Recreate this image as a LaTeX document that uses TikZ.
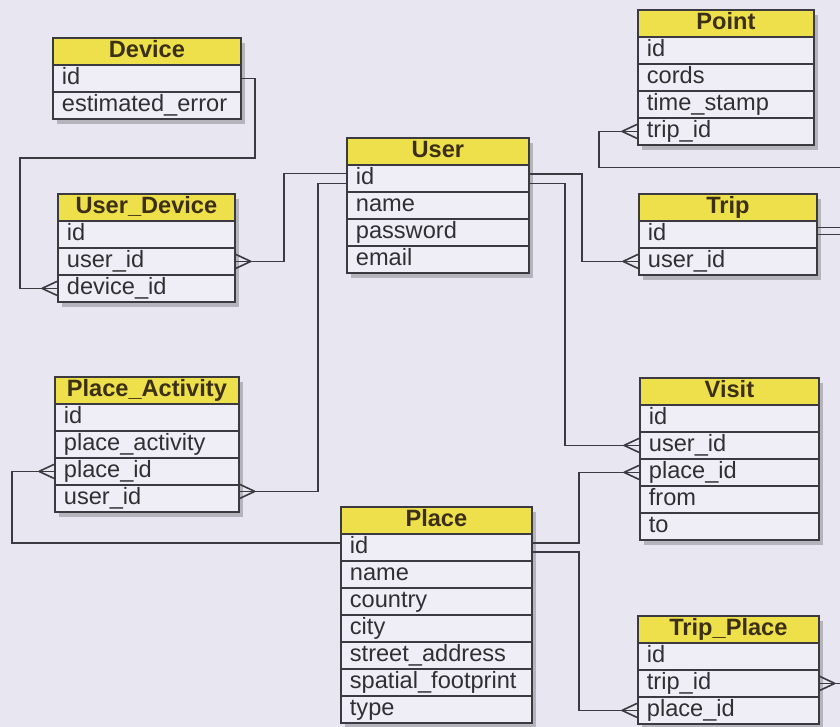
\documentclass[tikz,border=0pt]{standalone}
\usepackage{fontspec}
\setmainfont{Liberation Sans}
\usepackage{tikz}
\usetikzlibrary{calc}
\definecolor{bgcol}   {RGB}{232,230,241}
\definecolor{rowcol}  {RGB}{239,237,245}
\definecolor{headcol} {RGB}{238,224,74}
\definecolor{linecol} {RGB}{58,58,64}
\definecolor{txtcol}  {RGB}{48,48,52}
\definecolor{headtxt} {RGB}{59,48,22}
% one ER table: name, left x, top y, width (px), title, fields
\newcommand\ertable[6]{%
  \foreach \fld [count=\i] in {#6} {\xdef\ertn{\i}}
  \pgfmathsetmacro\ertfull{#4*0.5}
  \pgfmathsetmacro\ertw{#4*0.5-9}
  \fill[tshade] (#2+5,#3+6) rectangle ++(#4,{(\ertn+1)*27});
  \node[thead,minimum width=\ertfull pt,anchor=north west] (#1) at (#2,#3) {#5};
  \foreach \fld [count=\i] in {#6}
    \node[trow,text width=\ertw pt,anchor=north west] (#1-r\i) at (#2,{#3+\i*27}) {\fld};
}

\begin{document}
\begin{tikzpicture}[
  x=0.5pt,y=-0.5pt,
  thead/.style={rectangle,draw=linecol,fill=headcol,line width=0.9pt,
                font=\fontsize{11.8}{14}\selectfont\bfseries,text=headtxt,
                inner sep=0pt,minimum height=13.5pt,text height=8.6pt,text depth=2.6pt},
  trow/.style={rectangle,draw=linecol,fill=rowcol,line width=0.9pt,
               font=\fontsize{11.8}{14}\selectfont,text=txtcol,align=left,
               inner xsep=4.5pt,inner ysep=0pt,minimum height=13.5pt,
               text height=8.6pt,text depth=2.6pt},
  tshade/.style={fill=black,opacity=0.22},
  conn/.style={draw=linecol,line width=0.8pt},
  crow/.pic={\draw[conn] (15,0) -- (0,7) (15,0) -- (0,-7);}
]
\fill[bgcol] (0,0) rectangle (840,727);
\useasboundingbox (0,0) rectangle (840,727);

% tables
\ertable{device}{52}{37}{188}{Device}{id,estimated\_error}
\ertable{userdev}{57}{193}{177}{User\_Device}{id,user\_id,device\_id}
\ertable{user}{346}{137}{182}{User}{id,name,password,email}
\ertable{point}{637}{9}{176}{Point}{id,cords,time\_stamp,trip\_id}
\ertable{trip}{638}{193}{178}{Trip}{id,user\_id}
\ertable{pact}{54}{376}{184}{Place\_Activity}{id,place\_activity,place\_id,user\_id}
\ertable{visit}{639}{377}{179}{Visit}{id,user\_id,place\_id,from,to}
\ertable{place}{340}{506}{191}{Place}{id,name,country,city,street\_address,spatial\_footprint,type}
\ertable{tplace}{637}{615}{181}{Trip\_Place}{id,trip\_id,place\_id}

% relations
\draw[conn] (device-r1.east) -- ++(13,0) |- (20,158) |- (userdev-r3.west);
\draw[conn] ([yshift=2.5pt]user-r1.west) -| ($(userdev-r2.east)+(48,0)$) -- (userdev-r2.east);
\draw[conn] ([yshift=-2.5pt]user-r1.west) -| ($(pact-r4.east)+(78,-7)$) -- ([yshift=3.5pt]pact-r4.east);
\draw[conn] ([yshift=2.25pt]user-r1.east) -| ($(trip-r2.west)+(-56,0)$) -- (trip-r2.west);
\draw[conn] ([yshift=-2.5pt]user-r1.east) -| ($(visit-r2.west)+(-74,0)$) -- (visit-r2.west);
\draw[conn] ([yshift=3.5pt]trip-r1.east) -| ++(44,-60) -| ($(point-r4.west)+(-38,0)$) -- (point-r4.west);
\draw[conn] (trip-r1.east) -| ++(40,449) -- (tplace-r2.east);
\draw[conn] ([yshift=2.25pt]place-r1.west) -| ($(pact-r3.west)+(-42,0)$) -- (pact-r3.west);
\draw[conn] ([yshift=2.25pt]place-r1.east) -| ($(visit-r3.west)+(-60,0)$) -- (visit-r3.west);
\draw[conn] ([yshift=-2.25pt]place-r1.east) -| ($(tplace-r3.west)+(-58,0)$) -- (tplace-r3.west);

% crow's feet
\pic[xscale=-1] at (userdev-r3.west) {crow};
\pic at (userdev-r2.east) {crow};
\pic at ([yshift=3.5pt]pact-r4.east) {crow};
\pic[xscale=-1] at (pact-r3.west) {crow};
\pic[xscale=-1] at (trip-r2.west) {crow};
\pic[xscale=-1] at (point-r4.west) {crow};
\pic[xscale=-1] at (visit-r2.west) {crow};
\pic[xscale=-1] at (visit-r3.west) {crow};
\pic at (tplace-r2.east) {crow};
\pic[xscale=-1] at (tplace-r3.west) {crow};
\end{tikzpicture}
\end{document}
